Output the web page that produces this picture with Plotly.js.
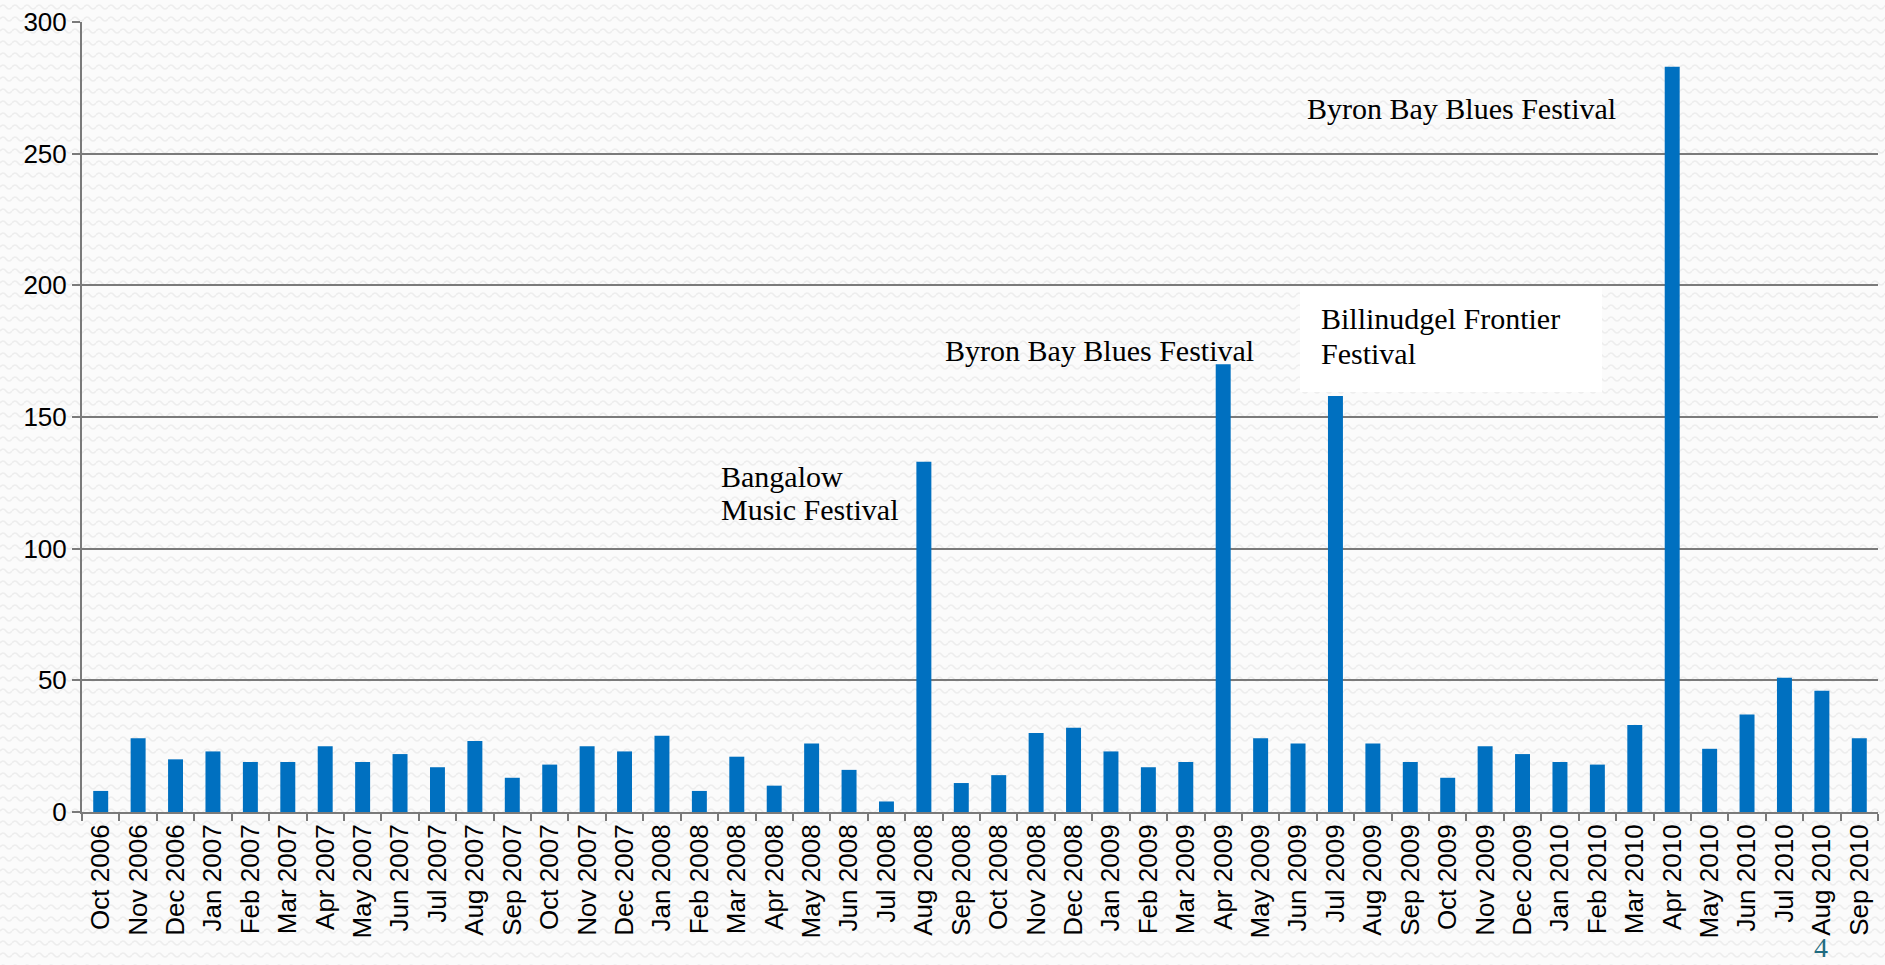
<!DOCTYPE html>
<html>
<head>
<meta charset="utf-8">
<script src="https://cdn.plot.ly/plotly-3.0.1.min.js"></script>
<style>
  html, body { margin: 0; padding: 0; width: 1885px; height: 965px; overflow: hidden; }
  body {
    background-color: #fbfbfb;
    background-image: url("data:image/svg+xml;utf8,<svg xmlns='http://www.w3.org/2000/svg' width='12' height='12'><path d='M0 7 Q3 3 6 7 T12 7' fill='none' stroke='%23ededed' stroke-width='1.6'/></svg>");
  }
  #chart { width: 1885px; height: 965px; }
</style>
</head>
<body>
<div id="chart"></div>
<script>
const months = [
  "Oct 2006","Nov 2006","Dec 2006","Jan 2007","Feb 2007","Mar 2007","Apr 2007","May 2007",
  "Jun 2007","Jul 2007","Aug 2007","Sep 2007","Oct 2007","Nov 2007","Dec 2007","Jan 2008",
  "Feb 2008","Mar 2008","Apr 2008","May 2008","Jun 2008","Jul 2008","Aug 2008","Sep 2008",
  "Oct 2008","Nov 2008","Dec 2008","Jan 2009","Feb 2009","Mar 2009","Apr 2009","May 2009",
  "Jun 2009","Jul 2009","Aug 2009","Sep 2009","Oct 2009","Nov 2009","Dec 2009","Jan 2010",
  "Feb 2010","Mar 2010","Apr 2010","May 2010","Jun 2010","Jul 2010","Aug 2010","Sep 2010"
];
const counts = [
  8, 28, 20, 23, 19, 19, 25, 19,
  22, 17, 27, 13, 18, 25, 23, 29,
  8, 21, 10, 26, 16, 4, 133, 11,
  14, 30, 32, 23, 17, 19, 170, 28,
  26, 158, 26, 19, 13, 25, 22, 19,
  18, 33, 283, 24, 37, 51, 46, 28
];
const yTicks = [0, 50, 100, 150, 200, 250, 300];
const notes = [
  {text: "Bangalow", x: 0.3552, y: 0.4241},
  {text: "Music Festival", x: 0.3552, y: 0.3823},
  {text: "Byron Bay Blues Festival", x: 0.4800, y: 0.5848},
  {text: "Billinudgel Frontier", x: 0.6893, y: 0.6241},
  {text: "Festival", x: 0.6893, y: 0.5810},
  {text: "Byron Bay Blues Festival", x: 0.6815, y: 0.8899}
];
const pageNumber = "4";

const gridCol = "#7a7a7a";
const trace = {
  type: "bar",
  x: months,
  y: counts,
  marker: {color: "#0070c0"},
  hoverinfo: "x+y"
};

const annotations = notes.map(n => ({
  text: n.text, xref: "paper", yref: "paper", x: n.x, y: n.y,
  xanchor: "left", yanchor: "middle", showarrow: false, align: "left",
  borderpad: 0,
  font: {family: "Liberation Serif, Times New Roman, serif", size: 30, color: "#000000"}
}));
annotations.push({
  text: pageNumber, xref: "paper", yref: "paper", x: 0.9636, y: -0.1925,
  xanchor: "left", yanchor: "bottom", showarrow: false, borderpad: 0,
  font: {family: "Liberation Serif, serif", size: 28, color: "#1f6b80"}
});

const layout = {
  width: 1885, height: 965,
  margin: {l: 82, r: 7, t: 22, b: 153, pad: 0},
  paper_bgcolor: "rgba(0,0,0,0)",
  plot_bgcolor: "rgba(0,0,0,0)",
  showlegend: false,
  bargap: 0.6,
  font: {family: "Liberation Sans, Arial, sans-serif", size: 26, color: "#000000"},
  xaxis: {
    type: "category",
    tickangle: -90,
    ticks: "outside", ticklen: 7, tickwidth: 2, tickcolor: gridCol,
    tickson: "boundaries",
    showline: true, linecolor: gridCol, linewidth: 2,
    showgrid: false, zeroline: false,
    tickfont: {family: "Liberation Sans, Arial, sans-serif", size: 26, color: "#000000"},
    automargin: false
  },
  yaxis: {
    range: [0, 300],
    tickmode: "array", tickvals: yTicks, ticktext: yTicks.map(String),
    ticks: "outside", ticklen: 8, tickwidth: 2, tickcolor: gridCol,
    showline: true, linecolor: gridCol, linewidth: 2,
    showgrid: true, gridcolor: gridCol, gridwidth: 2,
    zeroline: false,
    tickfont: {family: "Liberation Sans, Arial, sans-serif", size: 26, color: "#000000"},
    automargin: false
  },
  shapes: [{
    type: "rect", xref: "paper", yref: "paper",
    x0: 0.6782, x1: 0.8463, y0: 0.5316, y1: 0.6646,
    fillcolor: "#ffffff", line: {width: 0}, layer: "below"
  }],
  annotations: annotations
};

Plotly.newPlot("chart", [trace], layout, {displayModeBar: false, responsive: false});
</script>
</body>
</html>
